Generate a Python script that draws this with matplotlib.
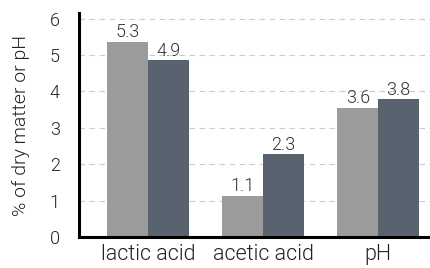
import numpy as np
import matplotlib
matplotlib.use("Agg")
import matplotlib.pyplot as plt

categories = ["lactic acid", "acetic acid", "pH"]
series_a = [5.37, 1.12, 3.54]
series_b = [4.85, 2.27, 3.78]
labels_a = ["5.3", "1.1", "3.6"]
labels_b = ["4.9", "2.3", "3.8"]

plt.rcParams["font.family"] = ["Roboto", "DejaVu Sans"]
plt.rcParams["font.weight"] = 300
plt.rcParams["axes.labelweight"] = 300

fig = plt.figure(figsize=(4.3, 2.68), dpi=100)
ax = fig.add_axes([0.184, 0.116, 0.816, 0.835])

x = np.arange(len(categories))
w = 0.355
bars_a = ax.bar(x - w / 2, series_a, w, color="#9b9b9b", zorder=3)
bars_b = ax.bar(x + w / 2, series_b, w, color="#596370", zorder=3)

for bars, labs in ((bars_a, labels_a), (bars_b, labels_b)):
    for b, lab in zip(bars, labs):
        ax.annotate(lab, (b.get_x() + b.get_width() / 2, b.get_height()),
                    xytext=(0, 0.5), textcoords="offset points",
                    ha="center", va="bottom", fontsize=13, color="#333333")

ax.set_xlim(-0.6, 2.45)
ax.set_ylim(0, 6.15)
ax.set_yticks(range(0, 7))
ax.set_xticks(x)
ax.set_xticklabels(categories)
ax.tick_params(length=0, colors="#222222")
ax.tick_params(axis="y", pad=14, labelsize=13)
ax.tick_params(axis="x", pad=5, labelsize=15.5)
ax.set_ylabel("% of dry matter or pH", fontsize=14, color="#222222", labelpad=14)

ax.yaxis.grid(True, linestyle=(0, (5, 4)), color="#cccccc", linewidth=0.8, zorder=0)
for s in ("top", "right"):
    ax.spines[s].set_visible(False)
for s in ("left", "bottom"):
    ax.spines[s].set_linewidth(2.2)
    ax.spines[s].set_color("black")
    ax.spines[s].set_zorder(4)

fig.savefig("out.png", dpi=100)
